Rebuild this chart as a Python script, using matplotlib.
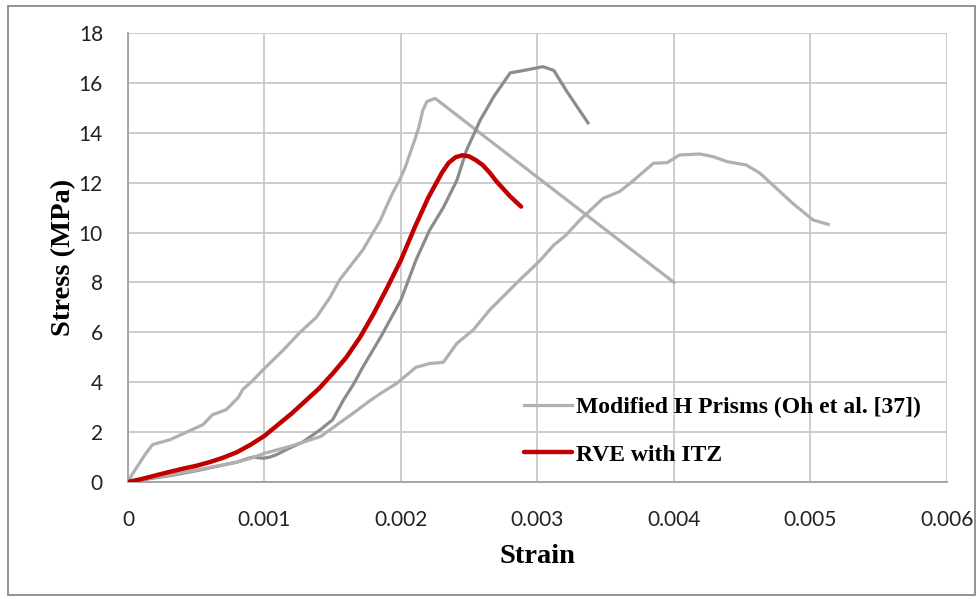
import matplotlib
matplotlib.use("Agg")
import matplotlib.pyplot as plt
from matplotlib.patches import Rectangle

# experimental curve 1 (light gray)
exp1_strain = [0, 0.00003, 0.00009, 0.000125, 0.00018, 0.00031, 0.00043, 0.00055, 0.00062,
               0.00072, 0.00081, 0.00084, 0.00092, 0.00099, 0.00114, 0.00126, 0.00138,
               0.00148, 0.00155, 0.00172, 0.00185, 0.00189, 0.00194, 0.00199, 0.00203,
               0.0021, 0.00213, 0.00216, 0.00219, 0.00225, 0.004]
exp1_stress = [0, 0.3, 0.8, 1.1, 1.5, 1.7, 2.0, 2.3, 2.7, 2.9, 3.4, 3.7, 4.1, 4.5, 5.3, 6.0,
               6.6, 7.4, 8.1, 9.3, 10.5, 11.0, 11.6, 12.1, 12.6, 13.7, 14.2, 14.9, 15.25,
               15.38, 8.0]

# experimental curve 2 (dark gray)
exp2_strain = [0, 0.0003, 0.0005, 0.0008, 0.00088, 0.00092, 0.00099, 0.00104, 0.00109,
               0.00116, 0.00128, 0.00141, 0.0015, 0.00158, 0.00165, 0.00172, 0.00185, 0.002,
               0.00211, 0.00221, 0.00231, 0.00241, 0.00248, 0.00258, 0.00268, 0.0028,
               0.0029, 0.00304, 0.00312, 0.00321, 0.00337]
exp2_stress = [0, 0.25, 0.45, 0.8, 0.95, 1.0, 0.95, 1.0, 1.1, 1.3, 1.6, 2.1, 2.5, 3.3, 3.9,
               4.6, 5.8, 7.3, 8.9, 10.1, 11.0, 12.1, 13.3, 14.5, 15.45, 16.4, 16.5, 16.65,
               16.5, 15.7, 14.4]

# experimental curve 3 (light gray)
exp3_strain = [0, 0.0003, 0.0005, 0.0008, 0.0009, 0.001, 0.0011, 0.0012, 0.00141, 0.00165,
               0.00177, 0.00185, 0.00197, 0.00211, 0.00221, 0.00231, 0.00241, 0.00253,
               0.00265, 0.0027, 0.00287, 0.00301, 0.00312, 0.00321, 0.00331, 0.00348,
               0.0036, 0.00368, 0.00385, 0.00395, 0.00404, 0.00419, 0.00429, 0.00439,
               0.00453, 0.00463, 0.00487, 0.00502, 0.00513]
exp3_stress = [0, 0.28, 0.48, 0.8, 0.95, 1.15, 1.3, 1.45, 1.82, 2.76, 3.25, 3.55, 3.96, 4.6,
               4.75, 4.8, 5.56, 6.1, 6.9, 7.17, 8.1, 8.83, 9.5, 9.9, 10.5, 11.37, 11.64,
               11.98, 12.78, 12.8, 13.11, 13.15, 13.04, 12.84, 12.71, 12.38, 11.17, 10.5,
               10.33]

# RVE model (red)
rve_strain = [0, 0.0001, 0.0002, 0.0003, 0.0004, 0.0005, 0.0006, 0.0007, 0.0008, 0.0009,
              0.001, 0.0011, 0.0012, 0.0013, 0.0014, 0.0015, 0.0016, 0.0017, 0.0018, 0.0019,
              0.002, 0.0021, 0.0022, 0.0023, 0.00235, 0.0024, 0.00245, 0.0025, 0.00255,
              0.0026, 0.00265, 0.0027, 0.00275, 0.0028, 0.00288]
rve_stress = [0, 0.12, 0.26, 0.4, 0.53, 0.65, 0.8, 0.98, 1.2, 1.5, 1.85, 2.3, 2.75, 3.25,
              3.75, 4.35, 5.0, 5.8, 6.75, 7.8, 8.9, 10.2, 11.4, 12.4, 12.8, 13.02, 13.1,
              13.05, 12.9, 12.7, 12.4, 12.05, 11.75, 11.45, 11.04]

x_ticks = [0, 0.001, 0.002, 0.003, 0.004, 0.005, 0.006]
x_tick_labels = ["0", "0.001", "0.002", "0.003", "0.004", "0.005", "0.006"]
y_ticks = [0, 2, 4, 6, 8, 10, 12, 14, 16, 18]

fig = plt.figure(figsize=(9.79, 5.99), dpi=100)
ax = fig.add_axes([0.1307, 0.1953, 0.8366, 0.7496])

ax.plot(exp1_strain, exp1_stress, color="#b0b0b0", lw=2.3,
        label="Modified H Prisms (Oh et al. [37])", zorder=3)
ax.plot(exp2_strain, exp2_stress, color="#8c8c8c", lw=2.3, zorder=3)
ax.plot(exp3_strain, exp3_stress, color="#b0b0b0", lw=2.3, zorder=3)
ax.plot(rve_strain, rve_stress, color="#c00000", lw=3.2, label="RVE with ITZ", zorder=4,
        solid_capstyle="round")

ax.set_xlim(0, 0.006)
ax.set_ylim(0, 18)
ax.set_xticks(x_ticks)
ax.set_xticklabels(x_tick_labels)
ax.set_yticks(y_ticks)
ax.grid(True, color="#c8c8c8", lw=1.3)
ax.set_axisbelow(True)
for s in ["top", "right"]:
    ax.spines[s].set_visible(False)
for s in ["left", "bottom"]:
    ax.spines[s].set_color("#a0a0a0")
    ax.spines[s].set_linewidth(1.3)
ax.tick_params(length=0, labelsize=15, labelcolor="#222222")
ax.tick_params(axis="y", pad=18)
ax.tick_params(axis="x", pad=20)
for lab in ax.get_xticklabels() + ax.get_yticklabels():
    lab.set_family("Lato")

ax.set_xlabel("Strain", family="Liberation Serif", weight="bold", fontsize=20.5, labelpad=10)
ax.set_ylabel("Stress (MPa)", family="Liberation Serif", weight="bold", fontsize=20.5,
              labelpad=2)

ax.legend(loc="center left", bbox_to_anchor=(0.458, 0.1136), frameon=False,
          prop={"family": "Liberation Serif", "weight": "bold", "size": 17},
          handlelength=2.0, handletextpad=0.2, labelspacing=1.1)

fig.patches.append(Rectangle((0.008, 0.007), 0.988, 0.983, transform=fig.transFigure,
                             fill=False, edgecolor="#8a8a8a", lw=1.3))

fig.savefig("out.png", dpi=100)
